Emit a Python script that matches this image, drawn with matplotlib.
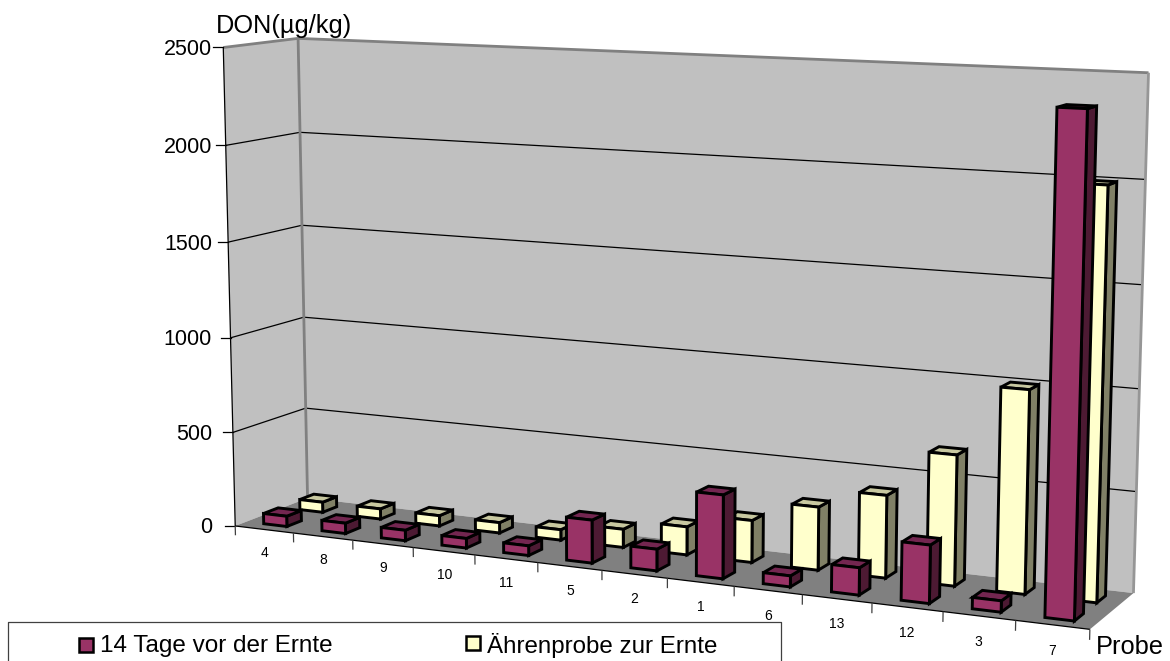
import numpy as np
import matplotlib
matplotlib.use('Agg')
import matplotlib.pyplot as plt
from matplotlib.patches import Polygon, Rectangle

plt.rcParams['font.family'] = ['Liberation Sans', 'DejaVu Sans']

proben = ['4', '8', '9', '10', '11', '5', '2', '1', '6', '13', '12', '3', '7']
vor_ernte = [55, 55, 55, 50, 50, 220, 110, 420, 55, 135, 285, 55, 2380]
zur_ernte = [55, 55, 55, 55, 55, 95, 145, 215, 320, 415, 650, 1000, 1995]
y_ticks = [0, 500, 1000, 1500, 2000, 2500]

WEINROT = ('#993366', '#4d1a33', '#732650')
GELB = ('#ffffcc', '#808066', '#c8c8a0')

n = len(proben)
z_max = y_ticks[-1]

# Kamera: (x, Tiefe, z) -> Pixel, aus Eckpunkten des Diagrammkastens bestimmt
stuetz = [
    (0, 0, 0, 235, 526), (0, 0, 2500, 223, 48), (0, 1, 2500, 298, 38),
    (0, 1, 0, 308, 499), (13, 1, 2500, 1149, 73), (13, 1, 0, 1133, 593),
    (13, 0, 0, 1090, 629), (1, 0, 0, 293, 533), (4, 0, 0, 475, 555),
    (12, 0, 0, 1016, 621), (0, 0, 2000, 226, 146), (0, 1, 2000, 300, 132),
    (13, 1, 2000, 1145, 179), (0, 0, 500, 233, 431),
]
A = []
for x, d, z, u, v in stuetz:
    p = [x / n, d, z / z_max, 1]
    A.append(p + [0, 0, 0, 0] + [-u * c for c in p])
    A.append([0, 0, 0, 0] + p + [-v * c for c in p])
P = np.linalg.svd(np.array(A, dtype=float))[2][-1].reshape(3, 4)


def proj(x, d, z):
    u, v, w = P @ np.array([x / n, d, z / z_max, 1.0])
    return u / w, v / w


fig = plt.figure(figsize=(11.7, 6.61), dpi=100)
ax = fig.add_axes([0, 0, 1, 1])
ax.set_xlim(0, 1170)
ax.set_ylim(661, 0)
ax.axis('off')


def flaeche(punkte, farbe, rand='black', lw=2.1, zorder=3):
    ax.add_patch(Polygon([proj(*p) for p in punkte], closed=True, facecolor=farbe,
                         edgecolor=rand, linewidth=lw, joinstyle='miter', zorder=zorder))


def linie(a, b, farbe='black', lw=0.9, zorder=2):
    pa, pb = proj(*a), proj(*b)
    ax.plot([pa[0], pb[0]], [pa[1], pb[1]], color=farbe, linewidth=lw,
            solid_capstyle='butt', zorder=zorder)


# Waende und Boden
flaeche([(0, 0, 0), (0, 0, z_max), (0, 1, z_max), (0, 1, 0)], '#c0c0c0', 'none', 0, 1)
flaeche([(0, 1, 0), (0, 1, z_max), (n, 1, z_max), (n, 1, 0)], '#c0c0c0', 'none', 0, 1)
flaeche([(0, 0, 0), (0, 1, 0), (n, 1, 0), (n, 0, 0)], '#808080', 'none', 0, 1)

for t in y_ticks[1:-1]:
    linie((0, 0, t), (0, 1, t))
    linie((0, 1, t), (n, 1, t))

linie((0, 1, 0), (0, 1, z_max), '#808080', 2)
linie((0, 0, z_max), (0, 1, z_max), '#808080', 2)
linie((0, 1, z_max), (n, 1, z_max), '#808080', 2)
linie((n, 1, 0), (n, 1, z_max), '#969696', 2)

linie((0, 0, 0), (0, 0, z_max))
linie((0, 0, 0), (n, 0, 0))

# Achsen
for t in y_ticks:
    u, v = proj(0, 0, t)
    ax.plot([u - 10, u], [v, v], color='black', linewidth=0.9, zorder=2)
    ax.text(212, v + 2, str(t), ha='right', va='center', fontsize=15.5)

for i in range(n + 1):
    linie((i, 0, 0), (i, 0, -50), '#404040')
for i, name in enumerate(proben):
    u, v = proj(i + 0.5, 0, -125)
    ax.text(u, v, name, ha='center', va='center', fontsize=10)


def saeule(i, d0, d1, wert, farben):
    x0, x1 = i + 0.3, i + 0.7
    flaeche([(x1, d0, 0), (x1, d1, 0), (x1, d1, wert), (x1, d0, wert)], farben[1])
    flaeche([(x0, d0, wert), (x1, d0, wert), (x1, d1, wert), (x0, d1, wert)], farben[2])
    flaeche([(x0, d0, 0), (x1, d0, 0), (x1, d0, wert), (x0, d0, wert)], farben[0])


# Hintere Reihe zuerst, damit die vordere sie verdeckt
for i, wert in enumerate(zur_ernte):
    saeule(i, 0.65, 0.85, wert, GELB)
for i, wert in enumerate(vor_ernte):
    saeule(i, 0.15, 0.35, wert, WEINROT)

ax.text(216, 26, 'DON(µg/kg)', ha='left', va='center', fontsize=18.3)
ax.text(1096, 647, 'Probe', ha='left', va='center', fontsize=18.3)

# Legende
ax.plot([8, 8, 781, 781], [661, 622, 622, 661], color='#404040', linewidth=0.9, zorder=5)
ax.add_patch(Rectangle((79, 638), 14, 14, facecolor=WEINROT[0], edgecolor='black', linewidth=1.8, zorder=5))
ax.text(100, 646, '14 Tage vor der Ernte', ha='left', va='center', fontsize=17.5, zorder=5)
ax.add_patch(Rectangle((466, 636), 14, 14, facecolor=GELB[0], edgecolor='black', linewidth=1.8, zorder=5))
ax.text(487, 646, 'Ährenprobe zur Ernte', ha='left', va='center', fontsize=17.4, zorder=5)

fig.savefig('out.png', dpi=100, facecolor='white')
